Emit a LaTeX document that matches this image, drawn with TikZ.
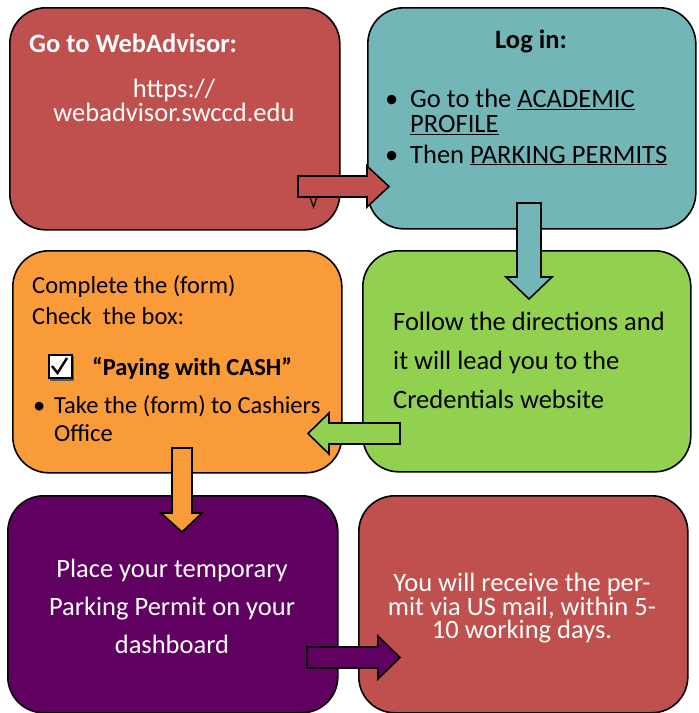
\documentclass[tikz,border=0pt]{standalone}
\usepackage{fontspec}
\setmainfont{Carlito}

\definecolor{webred}{HTML}{C0504D}
\definecolor{loginteal}{HTML}{72B6B8}
\definecolor{formorange}{HTML}{F99B38}
\definecolor{followgreen}{HTML}{92D050}
\definecolor{placepurple}{HTML}{600060}

\tikzset{
  panel/.style={draw, line width=1.6pt, rounded corners=36pt, anchor=north west, inner sep=0pt},
  blockarrow/.style={draw, line width=1.6pt, line join=miter},
  txt/.style={inner sep=0pt, font=\fontsize{26.5}{22}\selectfont},
}

\begin{document}
\begin{tikzpicture}[x=1pt, y=-1pt]
    \useasboundingbox (0,0) rectangle (699,713);

    % the six steps
    \node[panel, fill=webred, minimum width=330pt, minimum height=222pt] (web) at (9,7) {};
    \node[panel, fill=loginteal, minimum width=328pt, minimum height=221pt] (login) at (367,7) {};
    \node[panel, fill=formorange, minimum width=329pt, minimum height=222pt] (form) at (12,250) {};
    \node[panel, fill=followgreen, minimum width=328pt, minimum height=221pt] (follow) at (362,250) {};
    \node[panel, fill=placepurple, minimum width=330pt, minimum height=217pt] (place) at (7,495) {};
    \node[panel, fill=webred, minimum width=329pt, minimum height=217pt] (receive) at (358,495) {};

    % texts
    \node[txt, white, anchor=base west] (webtitle) at (29,52) {\textbf{Go to WebAdvisor:}};
    \node[txt, white, anchor=north, align=center] (weburl) at (174,79) {https://\\webadvisor.swccd.edu};

    \node[txt, anchor=base] (logintitle) at (531,48) {\textbf{Log in:}};
    \node[txt, anchor=north west, align=left, font=\fontsize{26.5}{25}\selectfont] (loginone) at (385,89)
        {\makebox[25pt][l]{\textbullet}Go to the \underline{ACADEMIC}\\\hspace*{25pt}\underline{PROFILE}};
    \node[txt, anchor=base west] (logintwo) at (385,163) {\makebox[25pt][l]{\textbullet}Then \underline{PARKING PERMITS}};

    \node[txt, anchor=base west, font=\fontsize{24.5}{20}\selectfont] (formone) at (32,293) {Complete the (form)};
    \node[txt, anchor=base west, font=\fontsize{24.5}{20}\selectfont] (formtwo) at (32,324) {Check\ \ the box:};
    \fill[gray!70!black] (50,356) rectangle (74,381);
    \node[draw, line width=1.6pt, fill=white, anchor=north west, minimum size=23pt, inner sep=0pt] (formbox) at (48,354) {};
    \draw[line width=2.4pt] (52,366) -- (57.5,373) -- (67,358);
    \node[txt, anchor=base west, font=\fontsize{24.5}{20}\selectfont\bfseries] (formcash) at (92,375) {“Paying with CASH”};
    \node[txt, anchor=north west, align=left, font=\fontsize{24.5}{28}\selectfont] (formthree) at (33,395)
        {\makebox[21pt][l]{\textbullet}Take the (form) to Cashiers\\\hspace*{21pt}Office};

    \node[txt, anchor=north west, align=left, font=\fontsize{26.5}{39}\selectfont] (followtext) at (393,312)
        {Follow the directions and\\it will lead you to the\\Credentials website};

    \node[txt, white, anchor=north, align=center, font=\fontsize{26.5}{38}\selectfont] (placetext) at (172,559)
        {Place your temporary\\Parking Permit on your\\dashboard\ };

    \node[txt, white, anchor=north, align=center, font=\fontsize{26.5}{21.5}\selectfont] (receivetext) at (522,573)
        {You will receive the per-\\mit via US mail, within 5-\\10 working days.};

    % block arrows
    \draw[blockarrow, fill=webred] (298,176) -- (367,176) -- (367,166) -- (389,186.5) -- (367,207) -- (367,197) -- (298,197) -- cycle;
    \draw[line width=1.2pt] (310,197) -- (313.5,207) -- (317,197);
    \draw[blockarrow, fill=loginteal] (517,203) -- (541,203) -- (541,277) -- (552,277) -- (529,299) -- (506,277) -- (517,277) -- cycle;
    \draw[blockarrow, fill=followgreen] (400,423) -- (329,423) -- (329,413) -- (308,433.5) -- (329,454) -- (329,444) -- (400,444) -- cycle;
    \draw[blockarrow, fill=formorange] (172,448) -- (192,448) -- (192,513) -- (202,513) -- (182,532) -- (161,513) -- (172,513) -- cycle;
    \draw[blockarrow, fill=placepurple] (307,647) -- (378,647) -- (378,636) -- (400,657.5) -- (378,679) -- (378,668) -- (307,668) -- cycle;
\end{tikzpicture}
\end{document}
